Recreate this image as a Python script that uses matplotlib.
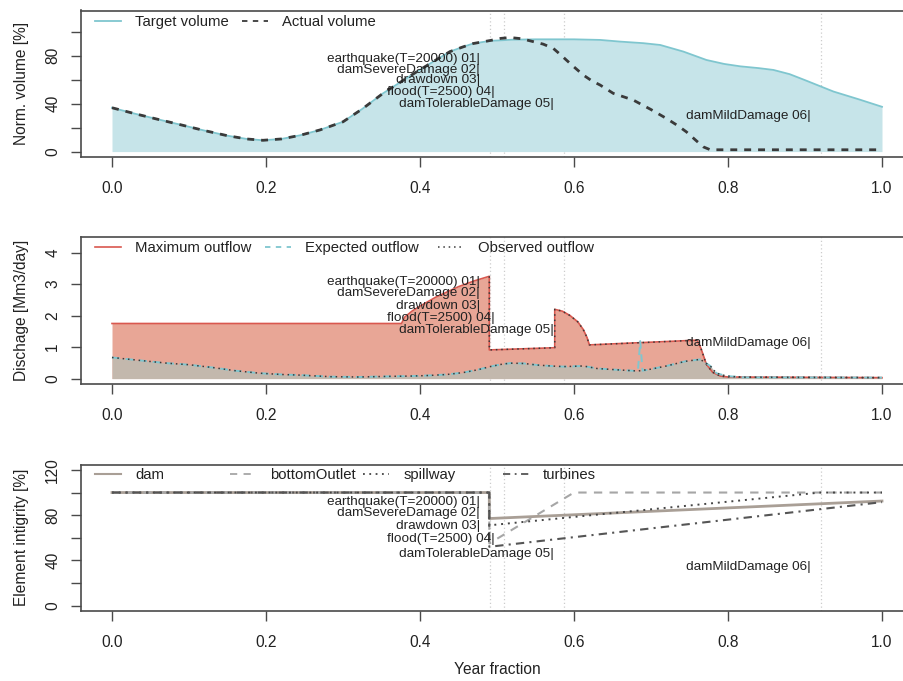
"""
Dam simulation summary: storage, discharge and element integrity over a year,
with the scenario events marked on every panel.
"""
import numpy as np
import matplotlib
matplotlib.use('Agg')
import matplotlib.pyplot as plt
from matplotlib.lines import Line2D
from matplotlib.legend import Legend

plt.rcParams['font.family'] = ['Liberation Sans', 'DejaVu Sans']

# === Data ===
# panel 1: normalised volume [%]
target_t = [0, 0.03, 0.06, 0.09, 0.12, 0.15, 0.175, 0.196, 0.22, 0.244, 0.27, 0.3,
            0.325, 0.352, 0.375, 0.396, 0.42, 0.439, 0.455, 0.469, 0.491, 0.52,
            0.55, 0.6, 0.634, 0.66, 0.69, 0.712, 0.742, 0.772, 0.795, 0.816,
            0.84, 0.859, 0.88, 0.9, 0.937, 0.97, 1.0]
target_v = [36.5, 31.5, 26.8, 22.2, 17.5, 13.2, 10.5, 9.4, 10.5, 13.5, 18.0, 24.8,
            35.5, 48.5, 58.0, 66.6, 76.0, 83.3, 87.0, 90.0, 92.2, 93.2,
            93.5, 93.5, 93.0, 91.6, 90.3, 88.8, 83.3, 76.3, 73.0, 71.0,
            69.5, 68.0, 64.5, 59.5, 50.0, 43.5, 37.3]
actual_t = [0, 0.03, 0.06, 0.09, 0.12, 0.15, 0.175, 0.196, 0.22, 0.244, 0.27, 0.3,
            0.325, 0.352, 0.375, 0.396, 0.42, 0.439, 0.455, 0.469, 0.491, 0.505,
            0.517, 0.532, 0.547, 0.56, 0.573, 0.582, 0.59, 0.6, 0.612, 0.623,
            0.634, 0.651, 0.665, 0.677, 0.7, 0.72, 0.735, 0.746, 0.758, 0.768,
            0.777, 1.0]
actual_v = [36.5, 31.5, 26.8, 22.2, 17.5, 13.2, 10.5, 9.4, 10.5, 13.5, 18.0, 24.8,
            35.5, 48.5, 58.0, 66.6, 76.0, 83.3, 87.0, 90.0, 92.5, 94.3,
            95.0, 94.0, 91.6, 89.5, 86.0, 81.0, 76.3, 70.5, 63.8, 59.0,
            55.4, 48.5, 45.5, 42.9, 35.0, 27.6, 21.5, 16.4, 9.5, 3.9,
            1.5, 1.5]

# panel 2: discharge [Mm3/day]
max_t = [0, 0.376, 0.38, 0.39, 0.40, 0.42, 0.45, 0.47, 0.49, 0.49, 0.575, 0.575,
         0.585, 0.595, 0.605, 0.612, 0.617, 0.62, 0.76, 0.765, 0.772, 0.78, 0.79,
         0.80, 1.0]
max_q = [1.75, 1.75, 1.95, 2.15, 2.3, 2.58, 2.92, 3.1, 3.25, 0.91, 0.98, 2.2,
         2.14, 2.0, 1.8, 1.56, 1.3, 1.07, 1.22, 0.95, 0.45, 0.2, 0.08,
         0.05, 0.03]
obs_t = [0, 0.035, 0.071, 0.1, 0.131, 0.16, 0.192, 0.22, 0.244, 0.283, 0.32, 0.36,
         0.39, 0.413, 0.435, 0.456, 0.475, 0.491, 0.505, 0.517, 0.535, 0.552,
         0.57, 0.586, 0.6, 0.612, 0.63, 0.655, 0.683, 0.7, 0.72, 0.745, 0.764,
         0.777, 0.785, 0.798, 0.82, 1.0]
obs_q = [0.67, 0.58, 0.49, 0.44, 0.35, 0.25, 0.17, 0.13, 0.11, 0.06, 0.05, 0.07,
         0.08, 0.1, 0.13, 0.19, 0.28, 0.38, 0.45, 0.49, 0.48, 0.43,
         0.4, 0.38, 0.39, 0.4, 0.32, 0.28, 0.24, 0.3, 0.4, 0.55, 0.61,
         0.4, 0.17, 0.08, 0.04, 0.03]
# expected outflow = observed plus the short peak near t = 0.686
spike_t = [0.683, 0.686, 0.689]
spike_q = [0.24, 1.19, 0.25]

# panel 3: element integrity [%]
dam_t = [0, 0.49, 0.49, 1.0]
dam_v = [100, 100, 77, 92.5]
bottom_t = [0, 0.49, 0.49, 0.6, 1.0]
bottom_v = [100, 100, 55, 100, 100]
spill_t = [0, 0.49, 0.49, 0.92, 1.0]
spill_v = [100, 100, 71, 100, 100]
turb_t = [0, 0.49, 0.49, 1.0]
turb_v = [100, 100, 52, 91.5]

# events
event_names = ["earthquake(T=20000) 01", "damSevereDamage 02", "drawdown 03",
               "flood(T=2500) 04", "damTolerableDamage 05", "damMildDamage 06"]
event_t = [0.491, 0.491, 0.491, 0.5095, 0.587, 0.921]
event_y_vol = [77.2, 68.0, 59.8, 49.8, 39.5, 29.6]
event_y_q = [3.07, 2.72, 2.30, 1.92, 1.54, 1.14]
event_y_int = [92.0, 81.6, 70.0, 58.5, 46.0, 34.3]

# === Style ===
C_TARGET = '#7fc6cf'
C_TARGET_FILL = '#c6e4e9'
C_MAX = '#d9584f'
C_MAX_FILL = '#e8a696'
C_OBS_FILL = '#c3b8ad'
C_DARK = '#3a3a3a'
C_FRAME = '#4a4a4a'
TICK_FS = 11.2
LEG_FS = 10.7
EV_FS = 9.7

fig = plt.figure(figsize=(9.04, 6.81), dpi=100)
W, H = 904.0, 681.0
AX_L, AX_W = 81.2 / W, 831.6 / W
AX_H = 146.5 / H
axes = [fig.add_axes([AX_L, (H - 157 - i * 227) / H, AX_W, AX_H]) for i in range(3)]


def style_axis(ax, ylim, yticks, ylabels, ylabel):
    r = ylim[1] - ylim[0]
    ax.set_xlim(-0.04, 1.04)
    ax.set_ylim(ylim[0] - 0.04 * r, ylim[1] + 0.04 * r)
    ax.set_xticks(np.arange(0, 1.01, 0.2))
    ax.set_xticklabels([f"{v:.1f}" for v in np.arange(0, 1.01, 0.2)])
    ax.set_yticks(yticks)
    ax.set_yticklabels(ylabels, rotation=90, va='center')
    ax.tick_params(direction='out', length=7, width=1, color=C_FRAME,
                   labelsize=TICK_FS, labelcolor='#222222')
    ax.tick_params(axis='x', pad=10)
    ax.tick_params(axis='y', pad=8)
    for s in ax.spines.values():
        s.set_color(C_FRAME)
        s.set_linewidth(1.2)
    ax.set_ylabel(ylabel, fontsize=TICK_FS, color='#222222', labelpad=12)
    for t in sorted(set(event_t)):
        ax.axvline(t, color='#cccccc', lw=0.9, ls=(0, (1, 2)), zorder=1)


def events(ax, ys):
    for name, t, y in zip(event_names, event_t, ys):
        ax.annotate(name + "|", (t, y), xytext=(-7.2, 0), textcoords='offset points',
                    ha='right', va='center', fontsize=EV_FS, color='#222222', zorder=6)


def legend_row(ax, entries, xs, y):
    # R-style horizontal legend: one small legend per entry at a fixed column
    for (handle, label), x in zip(entries, xs):
        leg = Legend(ax, [handle], [label], loc='center left', bbox_to_anchor=(x, y),
                     frameon=False, borderpad=0, borderaxespad=0, fontsize=LEG_FS,
                     handlelength=1.75, handletextpad=0.95)
        for txt in leg.get_texts():
            txt.set_color('#222222')
        ax.add_artist(leg)


# --- panel 1: volume ---
ax = axes[0]
ax.fill_between(target_t, 0, target_v, color=C_TARGET_FILL, lw=0, zorder=2)
ax.plot(target_t, target_v, color=C_TARGET, lw=1.3, zorder=3)
ax.plot(actual_t, actual_v, color=C_DARK, lw=2, ls=(0, (2.5, 2.5)), zorder=4)
style_axis(ax, (0, 113), [0, 20, 40, 60, 80, 100],
           ['0', '', '40', '', '80', ''], "Norm. volume [%]")
events(ax, event_y_vol)
legend_row(ax, [(Line2D([], [], color=C_TARGET, lw=1.3), "Target volume"),
                (Line2D([], [], color=C_DARK, lw=1.3, ls=(0, (3, 3))), "Actual volume")],
           [0.0166, 0.193], 0.92)

# --- panel 2: discharge ---
ax = axes[1]
ax.fill_between(max_t, 0, max_q, color=C_MAX_FILL, lw=0, zorder=2)
ax.fill_between(obs_t, 0, obs_q, color=C_OBS_FILL, lw=0, zorder=2)
ax.plot(max_t, max_q, color=C_MAX, lw=1.2, zorder=3)
mt, mq = np.array(max_t), np.array(max_q)
ax.plot(mt[mt >= 0.49], mq[mt >= 0.49], color=C_DARK, lw=1.1, ls=(0, (1, 2.5)), zorder=4)
exp_t = np.concatenate([obs_t, spike_t])
exp_q = np.concatenate([obs_q, spike_q])
order = np.argsort(exp_t, kind='stable')
ax.plot(exp_t[order], exp_q[order], color=C_TARGET, lw=1.4, ls=(0, (4, 3)), zorder=4)
ax.plot(obs_t, obs_q, color=C_DARK, lw=1.1, ls=(0, (1, 2.5)), zorder=5)
style_axis(ax, (0, 4.31), [0, 1, 2, 3, 4], ['0', '1', '2', '3', '4'],
           "Dischage [Mm3/day]")
events(ax, event_y_q)
legend_row(ax, [(Line2D([], [], color=C_MAX, lw=1.2), "Maximum outflow"),
                (Line2D([], [], color=C_TARGET, lw=1.3, ls=(0, (3, 3))), "Expected outflow"),
                (Line2D([], [], color=C_DARK, lw=1.1, ls=(0, (1, 2.5))), "Observed outflow")],
           [0.0166, 0.2207, 0.4291], 0.925)

# --- panel 3: integrity ---
ax = axes[2]
ax.plot(dam_t, dam_v, color='#a99f96', lw=2, zorder=3)
ax.plot(bottom_t, bottom_v, color='#a6a6a6', lw=1.5, ls=(0, (4, 3.5)), zorder=3)
ax.plot(spill_t, spill_v, color='#444444', lw=1.4, ls=(0, (1, 2.5)), zorder=4)
ax.plot(turb_t, turb_v, color='#555555', lw=1.5, ls=(0, (4, 2.5, 1, 2.5)), zorder=4)
style_axis(ax, (0, 120), [0, 20, 40, 60, 80, 100, 120],
           ['0', '', '40', '', '80', '', '120'], "Element intigrity [%]")
events(ax, event_y_int)
legend_row(ax, [(Line2D([], [], color='#a99f96', lw=1.5), "dam"),
                (Line2D([], [], color='#a6a6a6', lw=1.3, ls=(0, (4, 3.5))), "bottomOutlet"),
                (Line2D([], [], color='#444444', lw=1.3, ls=(0, (1, 2.5))), "spillway"),
                (Line2D([], [], color='#555555', lw=1.3, ls=(0, (4, 2.5, 1, 2.5))), "turbines")],
           [0.0166, 0.1789, 0.3389, 0.5072], 0.9255)
ax.set_xlabel("Year fraction", fontsize=TICK_FS, color='#222222', labelpad=9)

fig.savefig("out.png", dpi=100)
